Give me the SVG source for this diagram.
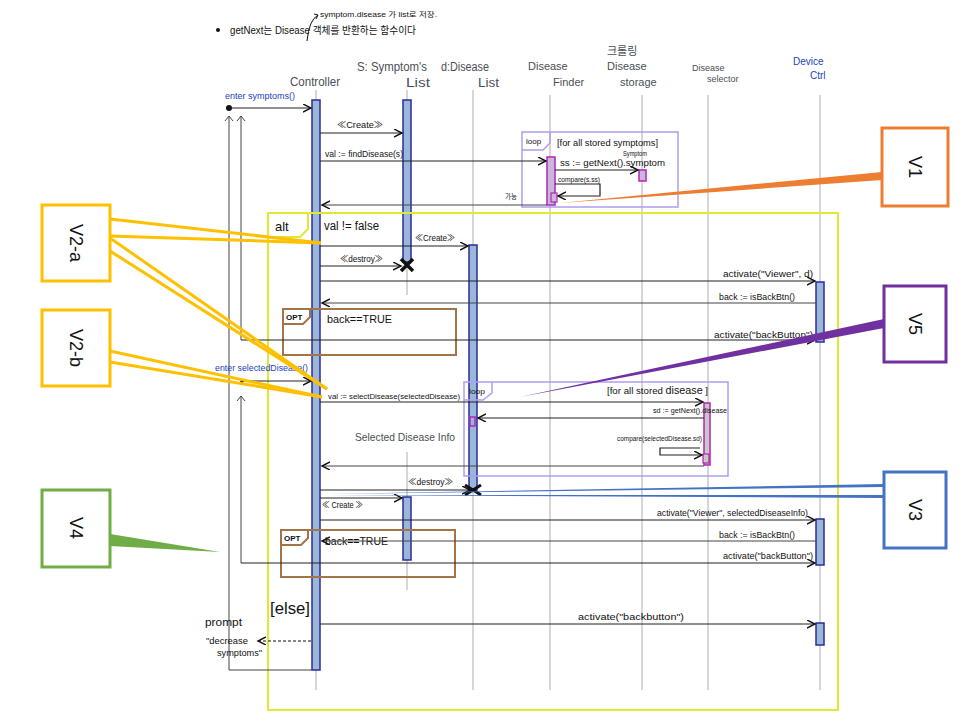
<svg xmlns="http://www.w3.org/2000/svg" width="976" height="724" viewBox="0 0 976 724">
  <style>
    text { font-family: "Liberation Sans", "Noto Sans CJK KR", sans-serif; fill: #111; }
    .hdr { font-size: 13px; fill: #4a4f55; }
    .lbl { font-size: 9px; }
    .tiny { font-size: 6.5px; }
    .blue { fill: #1a3fc0; }
    .life { stroke: #c8c8c8; stroke-width: 1.5; fill: none; }
    .act { fill: #9bb7d8; stroke: #2b2b9c; stroke-width: 1.5; }
    .msg { stroke: #222; stroke-width: 1.2; fill: none; }
    .ret { stroke: #444; stroke-width: 1; fill: none; }
    .loop { fill: none; stroke: #b09cf0; stroke-width: 1.5; }
    .opt { fill: none; stroke: #a47449; stroke-width: 2; }
    .alt { fill: none; stroke: #dfe935; stroke-width: 2; }
    .mag { fill: #c9b8d9; stroke: #b026b8; stroke-width: 1.5; }
    .vbox { fill: #fff; stroke-width: 3; }
    .vtxt { font-size: 18px; text-anchor: middle; fill: #111; }
    .ylw { stroke: #ffc000; stroke-width: 3; fill: none; }
  </style>
  <defs>
    <marker id="open" markerWidth="10" markerHeight="10" refX="8" refY="4" orient="auto" markerUnits="userSpaceOnUse">
      <path d="M0,0 L8,4 L0,8" fill="none" stroke="#111" stroke-width="1.4"/>
    </marker>
  </defs>

  <rect width="976" height="724" fill="#fff"/>

  <!-- note at the top -->
  <g id="note">
    <circle cx="218" cy="30" r="2" fill="#111"/>
    <text x="230" y="34" style="font-size:10px" textLength="186" lengthAdjust="spacingAndGlyphs">getNext는 Disease 객체를 반환하는 함수이다</text>
    <path d="M307,41 Q309,20 318,15" fill="none" stroke="#111" stroke-width="1"/>
    <path d="M314,14 L318,15 L316,19" fill="none" stroke="#111" stroke-width="1"/>
    <text x="320" y="17" style="font-size:7px" textLength="117" lengthAdjust="spacingAndGlyphs">symptom.disease 가 list로 저장.</text>
  </g>

  <!-- lifeline headers and lifelines -->
  <g id="controller">
    <text x="290" y="86" class="hdr" textLength="50" lengthAdjust="spacingAndGlyphs">Controller</text>
    <line x1="316" y1="90" x2="316" y2="690" class="life"/>
    <rect x="312" y="100" width="8" height="570" class="act"/>
  </g>
  <g id="symptomList">
    <text x="357" y="71" class="hdr" style="font-size:12px" textLength="70" lengthAdjust="spacingAndGlyphs">S: Symptom's</text>
    <text x="406" y="87" class="hdr" style="font-size:12px" textLength="24" lengthAdjust="spacingAndGlyphs">List</text>
    <line x1="407" y1="90" x2="407" y2="295" class="life"/>
    <rect x="403" y="100" width="8" height="162" class="act"/>
  </g>
  <g id="diseaseList">
    <text x="441" y="71" class="hdr" style="font-size:12px" textLength="48" lengthAdjust="spacingAndGlyphs">d:Disease</text>
    <text x="478" y="87" class="hdr" style="font-size:12px" textLength="21" lengthAdjust="spacingAndGlyphs">List</text>
    <line x1="473" y1="90" x2="473" y2="690" class="life"/>
    <rect x="469" y="245" width="8" height="245" class="act"/>
  </g>
  <g id="diseaseFinder">
    <text x="528" y="70" class="hdr" style="font-size:11px">Disease</text>
    <text x="553" y="86" class="hdr" style="font-size:11px">Finder</text>
    <line x1="550" y1="95" x2="550" y2="690" class="life"/>
  </g>
  <g id="diseaseStorage">
    <text x="607" y="55" class="hdr" style="font-size:11px">크롤링</text>
    <text x="607" y="70" class="hdr" style="font-size:11px">Disease</text>
    <text x="620" y="86" class="hdr" style="font-size:11px">storage</text>
    <line x1="642" y1="95" x2="642" y2="690" class="life"/>
  </g>
  <g id="diseaseSelector">
    <text x="692" y="71" class="hdr" style="font-size:9px">Disease</text>
    <text x="707" y="82" class="hdr" style="font-size:9px">selector</text>
    <line x1="708" y1="95" x2="708" y2="690" class="life"/>
  </g>
  <g id="deviceCtrl">
    <text x="793" y="65" class="hdr blue" style="font-size:10px">Device</text>
    <text x="810" y="79" class="hdr blue" style="font-size:10px">Ctrl</text>
    <line x1="820" y1="95" x2="820" y2="690" class="life"/>
    <rect x="816" y="282" width="8" height="60" class="act"/>
    <rect x="816" y="519" width="8" height="46" class="act"/>
    <rect x="816" y="623" width="8" height="22" class="act"/>
  </g>
  <g id="selectedDiseaseInfo">
    <text x="355" y="441" class="hdr" style="font-size:11px" textLength="100" lengthAdjust="spacingAndGlyphs">Selected Disease Info</text>
    <line x1="407" y1="452" x2="407" y2="590" class="life"/>
    <rect x="403" y="497" width="8" height="63" class="act"/>
  </g>

  <!-- combined fragments -->
  <g id="loopSymptoms">
    <rect x="522" y="132" width="156" height="75" class="loop"/>
    <path d="M522,150 H543 L550,143 V132" class="loop"/>
    <text x="526" y="144" class="lbl" style="font-size:8px">loop</text>
    <text x="557" y="146" class="lbl" textLength="101" lengthAdjust="spacingAndGlyphs">[for all stored symptoms]</text>
    <rect x="547" y="157" width="8" height="48" class="mag"/>
    <rect x="639" y="170" width="7" height="11" fill="#c9b8d9" stroke="#b026b8" stroke-width="1.5"/>
    <rect x="551" y="193" width="6" height="9" fill="#c9b8d9" stroke="#b026b8" stroke-width="1.2"/>
  </g>
  <g id="altFragment">
    <rect x="268" y="213" width="570" height="497" class="alt"/>
    <path d="M268,237 H300 L308,229 V213" class="alt"/>
    <text x="275" y="231" style="font-size:13px">alt</text>
    <text x="324" y="230" style="font-size:12px" textLength="55" lengthAdjust="spacingAndGlyphs">val != false</text>
    <text x="270" y="614" style="font-size:16px" textLength="40" lengthAdjust="spacingAndGlyphs">[else]</text>
  </g>
  <g id="opt1">
    <rect x="283" y="309" width="173" height="46" class="opt"/>
    <path d="M283,324 H303 L310,317 V309" class="opt"/>
    <text x="286" y="320" class="lbl" style="font-size:8px;font-weight:bold">OPT</text>
    <text x="327" y="323" style="font-size:11px" textLength="65" lengthAdjust="spacingAndGlyphs">back==TRUE</text>
  </g>
  <g id="loopDisease">
    <rect x="464" y="382" width="264" height="94" class="loop"/>
    <path d="M464,400 H483 L492,393 V382" class="loop"/>
    <text x="469" y="394" class="lbl" style="font-size:7px" textLength="16" lengthAdjust="spacingAndGlyphs">loop</text>
    <text x="607" y="394" class="lbl" textLength="101" lengthAdjust="spacingAndGlyphs">[for all stored <tspan style="font-size:10px">disease</tspan> ]</text>
    <rect x="704" y="403" width="6" height="62" fill="#c8c8c8" stroke="#b026b8" stroke-width="1.5"/>
    <rect x="703" y="454" width="6" height="9" fill="#c8c8c8" stroke="#b026b8" stroke-width="1.2"/>
    <rect x="470" y="417" width="5" height="9" fill="none" stroke="#b026b8" stroke-width="1.5"/>
  </g>
  <g id="opt2">
    <rect x="281" y="530" width="174" height="47" class="opt"/>
    <path d="M281,545 H301 L308,538 V530" class="opt"/>
    <text x="284" y="541" class="lbl" style="font-size:8px;font-weight:bold">OPT</text>
    <text x="325" y="545" style="font-size:11px" textLength="63" lengthAdjust="spacingAndGlyphs">back==TRUE</text>
  </g>

  <!-- messages -->
  <g id="connectors">
    <!-- entry of symptoms -->
    <text x="225" y="99" class="lbl blue" textLength="70" lengthAdjust="spacingAndGlyphs">enter symptoms()</text>
    <circle cx="229" cy="108" r="3" fill="#111"/>
    <line x1="229" y1="108" x2="311" y2="108" class="msg" stroke-width="1.6" marker-end="url(#open)"/>
    <!-- back loops on the left -->
    <path d="M229,670 V116" class="ret"/>
    <path d="M225,121 L229,116 L233,121" class="ret"/>
    <path d="M241,340 V116" class="ret"/>
    <path d="M237,121 L241,116 L245,121" class="ret"/>
    <path d="M229,670 H312" class="ret"/>
    <path d="M241,563 V396" class="ret"/>
    <path d="M237,401 L241,396 L245,401" class="ret"/>

    <text x="337" y="128" class="lbl" textLength="46" lengthAdjust="spacingAndGlyphs">≪Create≫</text>
    <line x1="320" y1="133" x2="402" y2="133" class="msg" marker-end="url(#open)"/>
    <text x="325" y="157" class="lbl" textLength="78" lengthAdjust="spacingAndGlyphs">val := findDisease(s)</text>
    <line x1="320" y1="161" x2="546" y2="161" class="msg" marker-end="url(#open)"/>
    <text x="560" y="166" class="lbl" textLength="105" lengthAdjust="spacingAndGlyphs">ss := getNext().symptom</text>
    <text x="623" y="156" class="tiny" textLength="24" lengthAdjust="spacingAndGlyphs">Symptom</text>
    <line x1="555" y1="170" x2="638" y2="170" class="msg" marker-end="url(#open)"/>
    <text x="558" y="182" class="tiny" textLength="42" lengthAdjust="spacingAndGlyphs">compare(s.ss)</text>
    <path d="M555,184 H600 V196 H558" class="msg" marker-end="url(#open)"/>
    <text x="505" y="199" class="tiny">가능</text>
    <line x1="547" y1="205" x2="322" y2="205" class="ret" marker-end="url(#open)"/>

    <text x="415" y="241" class="lbl" textLength="40" lengthAdjust="spacingAndGlyphs">≪Create≫</text>
    <line x1="320" y1="246" x2="468" y2="246" class="msg" marker-end="url(#open)"/>
    <text x="340" y="262" class="lbl" textLength="43" lengthAdjust="spacingAndGlyphs">≪destroy≫</text>
    <line x1="320" y1="266" x2="401" y2="266" class="msg" marker-end="url(#open)"/>
    <path d="M401,259 L413,271 M413,259 L401,271" stroke="#111" stroke-width="3.5"/>
    <text x="723" y="277" class="lbl" textLength="90" lengthAdjust="spacingAndGlyphs">activate("Viewer", d)</text>
    <line x1="320" y1="281" x2="815" y2="281" class="msg" marker-end="url(#open)"/>
    <text x="719" y="300" class="lbl" textLength="76" lengthAdjust="spacingAndGlyphs">back := isBackBtn()</text>
    <line x1="816" y1="303" x2="322" y2="303" class="ret" marker-end="url(#open)"/>
    <text x="714" y="338" class="lbl" textLength="99" lengthAdjust="spacingAndGlyphs">activate("backButton")</text>
    <line x1="241" y1="340" x2="815" y2="340" class="msg" marker-end="url(#open)"/>

    <text x="215" y="371" class="lbl blue" textLength="93" lengthAdjust="spacingAndGlyphs">enter selectedDisease()</text>
    <circle cx="242" cy="381" r="1.8" fill="#111"/>
    <line x1="242" y1="381" x2="311" y2="381" class="msg" stroke-width="1.6" marker-end="url(#open)"/>
    <text x="328" y="399" class="lbl" style="font-size:8px" textLength="132" lengthAdjust="spacingAndGlyphs">val := selectDisease(selectedDisease)</text>
    <line x1="320" y1="402" x2="703" y2="402" class="msg" marker-end="url(#open)"/>
    <text x="653" y="413" class="tiny" textLength="74" lengthAdjust="spacingAndGlyphs">sd := getNext().disease</text>
    <line x1="704" y1="418" x2="478" y2="418" class="msg" marker-end="url(#open)"/>
    <text x="617" y="441" class="tiny" textLength="85" lengthAdjust="spacingAndGlyphs">compare(selectedDisease.sd)</text>
    <path d="M700,448 H660 V455 H702" class="msg" marker-end="url(#open)"/>
    <line x1="704" y1="466" x2="322" y2="466" class="ret" marker-end="url(#open)"/>

    <text x="408" y="485" class="lbl" textLength="45" lengthAdjust="spacingAndGlyphs">≪destroy≫</text>
    <line x1="320" y1="490" x2="470" y2="490" class="msg" marker-end="url(#open)"/>
    <path d="M465,485 L481,495 M481,485 L465,495" stroke="#111" stroke-width="3"/>
    <text x="322" y="508" class="lbl" textLength="41" lengthAdjust="spacingAndGlyphs">≪ Create ≫</text>
    <line x1="320" y1="498" x2="402" y2="498" class="msg" marker-end="url(#open)"/>
    <text x="657" y="516" class="lbl" textLength="151" lengthAdjust="spacingAndGlyphs">activate("Viewer", selectedDiseaseInfo)</text>
    <line x1="320" y1="520" x2="815" y2="520" class="msg" marker-end="url(#open)"/>
    <text x="719" y="538" class="lbl" textLength="76" lengthAdjust="spacingAndGlyphs">back := isBackBtn()</text>
    <line x1="816" y1="541" x2="322" y2="541" class="ret" marker-end="url(#open)"/>
    <text x="723" y="559" class="lbl" textLength="90" lengthAdjust="spacingAndGlyphs">activate("backButton")</text>
    <line x1="241" y1="563" x2="815" y2="563" class="msg" marker-end="url(#open)"/>

    <text x="578" y="620" class="lbl" textLength="106" lengthAdjust="spacingAndGlyphs">activate("backbutton")</text>
    <line x1="320" y1="624" x2="815" y2="624" class="msg" marker-end="url(#open)"/>
    <text x="205" y="626" style="font-size:10px" textLength="37" lengthAdjust="spacingAndGlyphs">prompt</text>
    <text x="206" y="644" class="lbl" textLength="42" lengthAdjust="spacingAndGlyphs">"decrease</text>
    <text x="217" y="656" class="lbl" textLength="45" lengthAdjust="spacingAndGlyphs">symptoms"</text>
    <line x1="311" y1="641" x2="258" y2="641" stroke="#111" stroke-width="1.2" stroke-dasharray="3,2" marker-end="url(#open)"/>
  </g>

  <!-- review tags with pointers -->
  <g id="V1">
    <polygon points="882,172 882,180 560,203" fill="#ed7d31"/>
    <rect x="882" y="128" width="66" height="78" class="vbox" stroke="#ed7d31"/>
    <text x="915" y="167" class="vtxt" transform="rotate(90 915 167)" dy="6">V1</text>
  </g>
  <g id="V2a">
    <line x1="110" y1="219" x2="321" y2="243" class="ylw"/>
    <line x1="110" y1="236" x2="321" y2="243" class="ylw"/>
    <line x1="110" y1="238" x2="327" y2="389" class="ylw"/>
    <line x1="110" y1="251" x2="327" y2="389" class="ylw"/>
    <rect x="42" y="205" width="68" height="76" class="vbox" stroke="#ffc000"/>
    <text x="76" y="243" class="vtxt" transform="rotate(90 76 243)" dy="6">V2-a</text>
  </g>
  <g id="V2b">
    <line x1="110" y1="351" x2="322" y2="397" class="ylw"/>
    <line x1="110" y1="362" x2="322" y2="397" class="ylw"/>
    <rect x="42" y="310" width="68" height="76" class="vbox" stroke="#ffc000"/>
    <text x="76" y="348" class="vtxt" transform="rotate(90 76 348)" dy="6">V2-b</text>
  </g>
  <g id="V4">
    <polygon points="110,534 110,546 220,552" fill="#70ad47"/>
    <rect x="42" y="490" width="68" height="77" class="vbox" stroke="#70ad47"/>
    <text x="76" y="528" class="vtxt" transform="rotate(90 76 528)" dy="6">V4</text>
  </g>
  <g id="V5">
    <polygon points="884,319 884,328 520,397" fill="#7030a0"/>
    <rect x="884" y="286" width="62" height="76" class="vbox" stroke="#7030a0"/>
    <text x="915" y="324" class="vtxt" transform="rotate(90 915 324)" dy="6">V5</text>
  </g>
  <g id="V3">
    <polygon points="884,484 884,487 326,494" fill="#4472c4"/>
    <polygon points="884,495 884,498 326,495" fill="#4472c4"/>
    <rect x="884" y="472" width="62" height="76" class="vbox" stroke="#4472c4"/>
    <text x="915" y="510" class="vtxt" transform="rotate(90 915 510)" dy="6">V3</text>
  </g>
</svg>
